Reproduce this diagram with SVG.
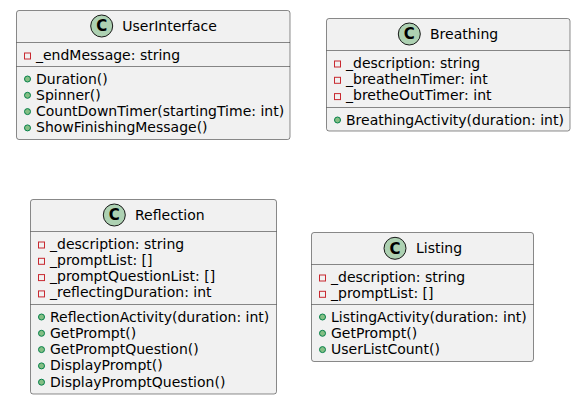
<svg xmlns="http://www.w3.org/2000/svg" width="581" height="413" viewBox="0 0 581 413">
<style>
.box{fill:#F1F1F1;stroke:#181818;stroke-width:0.5}
.sep{stroke:#181818;stroke-width:0.5}
.ci{fill:#ADD1B2;stroke:#181818;stroke-width:1}
.cl{font-family:"DejaVu Sans",sans-serif;font-size:15px;font-weight:bold;fill:#000;text-anchor:middle}
.t{font-family:"DejaVu Sans",sans-serif;font-size:14px;fill:#000}
.pv{fill:none;stroke:#C82930;stroke-width:1}
.pb{fill:#84BE84;stroke:#038048;stroke-width:1}
</style>
<rect width="581" height="413" fill="#FFFFFF"/>
<g id="UserInterface">
<rect class="box" x="16.5" y="10.5" width="273.5" height="129" rx="2.5"/>
<circle class="ci" cx="101.7" cy="26" r="11"/>
<text class="cl" x="101.7" y="31.3">C</text>
<text class="t" x="122.3" y="31">UserInterface</text>
<line class="sep" x1="16.5" y1="42.5" x2="290" y2="42.5"/>
<rect class="pv" x="24.5" y="53" width="6" height="6"/>
<text class="t" x="36" y="59.5">_endMessage: string</text>
<line class="sep" x1="16.5" y1="66.5" x2="290" y2="66.5"/>
<circle class="pb" cx="27.5" cy="79" r="3"/>
<text class="t" x="36" y="83.5">Duration()</text>
<circle class="pb" cx="27.5" cy="95.3" r="3"/>
<text class="t" x="36" y="99.8">Spinner()</text>
<circle class="pb" cx="27.5" cy="111.6" r="3"/>
<text class="t" x="36" y="116.1">CountDownTimer(startingTime: int)</text>
<circle class="pb" cx="27.5" cy="127.9" r="3"/>
<text class="t" x="36" y="132.4">ShowFinishingMessage()</text>
</g>
<g id="Breathing">
<rect class="box" x="326.5" y="18.5" width="243.5" height="112.5" rx="2.5"/>
<circle class="ci" cx="409.3" cy="34" r="11"/>
<text class="cl" x="409.3" y="39.3">C</text>
<text class="t" x="430" y="39">Breathing</text>
<line class="sep" x1="326.5" y1="50.5" x2="570" y2="50.5"/>
<rect class="pv" x="334.5" y="61" width="6" height="6"/>
<text class="t" x="346" y="67.5">_description: string</text>
<rect class="pv" x="334.5" y="77.3" width="6" height="6"/>
<text class="t" x="346" y="83.8">_breatheInTimer: int</text>
<rect class="pv" x="334.5" y="93.6" width="6" height="6"/>
<text class="t" x="346" y="100.1">_bretheOutTimer: int</text>
<line class="sep" x1="326.5" y1="107.5" x2="570" y2="107.5"/>
<circle class="pb" cx="337.5" cy="120" r="3"/>
<text class="t" x="346" y="124.5">BreathingActivity(duration: int)</text>
</g>
<g id="Reflection">
<rect class="box" x="30.5" y="199.5" width="246" height="194.5" rx="2.5"/>
<circle class="ci" cx="114.3" cy="215" r="11"/>
<text class="cl" x="114.3" y="220.3">C</text>
<text class="t" x="135" y="220">Reflection</text>
<line class="sep" x1="30.5" y1="231.5" x2="276.5" y2="231.5"/>
<rect class="pv" x="38.5" y="242" width="6" height="6"/>
<text class="t" x="50" y="248.5">_description: string</text>
<rect class="pv" x="38.5" y="258.3" width="6" height="6"/>
<text class="t" x="50" y="264.8">_promptList: []</text>
<rect class="pv" x="38.5" y="274.6" width="6" height="6"/>
<text class="t" x="50" y="281.1">_promptQuestionList: []</text>
<rect class="pv" x="38.5" y="290.9" width="6" height="6"/>
<text class="t" x="50" y="297.4">_reflectingDuration: int</text>
<line class="sep" x1="30.5" y1="304.5" x2="276.5" y2="304.5"/>
<circle class="pb" cx="41.5" cy="317" r="3"/>
<text class="t" x="50" y="321.5">ReflectionActivity(duration: int)</text>
<circle class="pb" cx="41.5" cy="333.3" r="3"/>
<text class="t" x="50" y="337.8">GetPrompt()</text>
<circle class="pb" cx="41.5" cy="349.6" r="3"/>
<text class="t" x="50" y="354.1">GetPromptQuestion()</text>
<circle class="pb" cx="41.5" cy="365.9" r="3"/>
<text class="t" x="50" y="370.4">DisplayPrompt()</text>
<circle class="pb" cx="41.5" cy="382.2" r="3"/>
<text class="t" x="50" y="386.7">DisplayPromptQuestion()</text>
</g>
<g id="Listing">
<rect class="box" x="311.5" y="232.5" width="222" height="129" rx="2.5"/>
<circle class="ci" cx="395" cy="248.3" r="11"/>
<text class="cl" x="395" y="253.6">C</text>
<text class="t" x="416" y="253">Listing</text>
<line class="sep" x1="311.5" y1="264.5" x2="533.5" y2="264.5"/>
<rect class="pv" x="319.5" y="275" width="6" height="6"/>
<text class="t" x="331" y="281.5">_description: string</text>
<rect class="pv" x="319.5" y="291.3" width="6" height="6"/>
<text class="t" x="331" y="297.8">_promptList: []</text>
<line class="sep" x1="311.5" y1="304.5" x2="533.5" y2="304.5"/>
<circle class="pb" cx="322.5" cy="317" r="3"/>
<text class="t" x="331" y="321.5">ListingActivity(duration: int)</text>
<circle class="pb" cx="322.5" cy="333.3" r="3"/>
<text class="t" x="331" y="337.8">GetPrompt()</text>
<circle class="pb" cx="322.5" cy="349.6" r="3"/>
<text class="t" x="331" y="354.1">UserListCount()</text>
</g>
<g id="connectors"/>
</svg>
